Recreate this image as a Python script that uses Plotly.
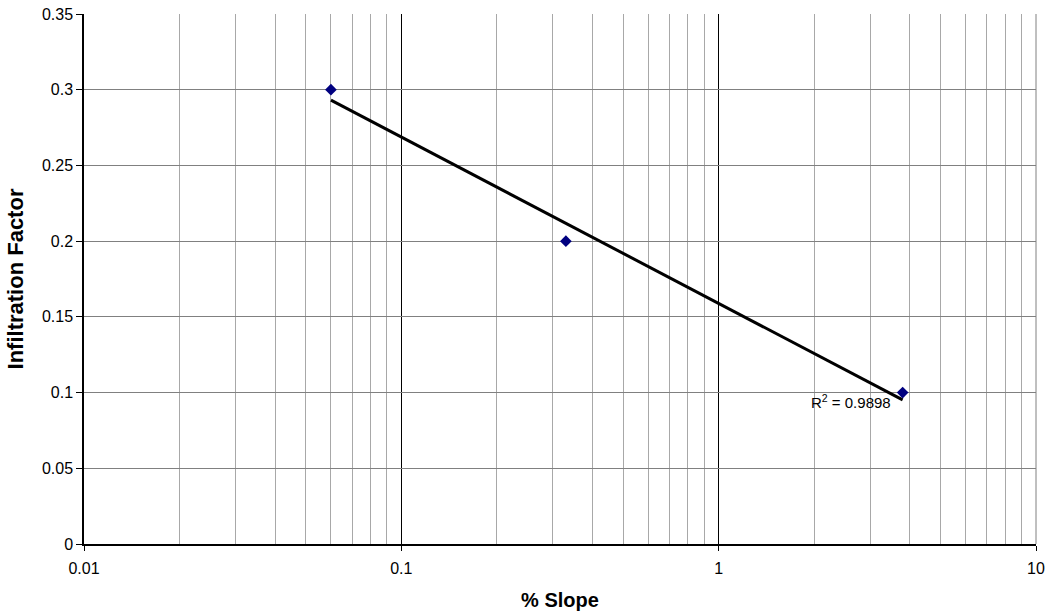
import numpy as np
import plotly.graph_objects as go

slope_pct = [0.06, 0.33, 3.8]
infiltration = [0.30, 0.20, 0.10]
r2_label = "R<sup>2</sup> = 0.9898"
y_ticks = [0, 0.05, 0.1, 0.15, 0.2, 0.25, 0.3, 0.35]
y_tick_text = ["0", "0.05", "0.1", "0.15", "0.2", "0.25", "0.3", "0.35"]
x_ticks = [0.01, 0.1, 1, 10]
x_tick_text = ["0.01", "0.1", "1", "10"]

# logarithmic trendline fit y = a + b ln(x)
lx = np.log(np.array(slope_pct))
b, a = np.polyfit(lx, np.array(infiltration), 1)
xt = np.array([min(slope_pct), max(slope_pct)])
yt = a + b * np.log(xt)

FONT = "Arial, Liberation Sans, sans-serif"

fig = go.Figure()
fig.add_trace(go.Scatter(x=xt, y=yt, mode="lines",
                         line=dict(color="black", width=3), hoverinfo="skip"))
fig.add_trace(go.Scatter(x=slope_pct, y=infiltration, mode="markers",
                         marker=dict(symbol="diamond", size=9, color="#000080")))

fig.add_annotation(x=np.log10(max(slope_pct)), y=yt[-1], xref="x", yref="y",
                   text=r2_label, showarrow=False, xanchor="right", yanchor="middle",
                   xshift=-10, yshift=-2,
                   font=dict(family=FONT, size=15, color="black"))

# gray border on right
fig.add_shape(type="line", xref="paper", yref="paper", x0=1, x1=1, y0=0, y1=1,
              line=dict(color="#808080", width=1))

fig.update_layout(
    width=1045, height=614,
    margin=dict(l=84, r=9, t=14, b=70, autoexpand=False),
    plot_bgcolor="white", paper_bgcolor="white",
    showlegend=False,
    font=dict(family=FONT, size=16, color="black"),
    xaxis=dict(type="log", range=[-2, 1], tickvals=x_ticks, ticktext=x_tick_text,
               automargin=False, tickfont=dict(family=FONT, size=16),
               ticklabeloverflow="allow", ticklabelstandoff=4,
               showgrid=True, gridcolor="black", gridwidth=1,
               showline=True, linecolor="black", linewidth=1.5,
               ticks="outside", ticklen=5, tickcolor="black",
               minor=dict(showgrid=True, gridcolor="#a8a8a8", gridwidth=1, ticks="",
                          dtick="D1"),
               title=dict(text="<b>% Slope</b>", font=dict(family=FONT, size=20), standoff=17),
               zeroline=False),
    yaxis=dict(range=[0, 0.35], tickvals=y_ticks, ticktext=y_tick_text,
               automargin=False, tickfont=dict(family=FONT, size=16),
               ticklabeloverflow="allow",
               showgrid=True, gridcolor="#808080", gridwidth=1,
               showline=True, linecolor="black", linewidth=1.5,
               ticks="outside", ticklen=6, tickcolor="black",
               title=dict(text="<b>Infiltration Factor</b>", font=dict(family=FONT, size=22), standoff=12),
               zeroline=False),
)

fig.write_html("out.html", config={"displayModeBar": False},
               post_script="document.body.style.margin='0';document.body.style.padding='0';document.body.style.overflow='hidden';")
